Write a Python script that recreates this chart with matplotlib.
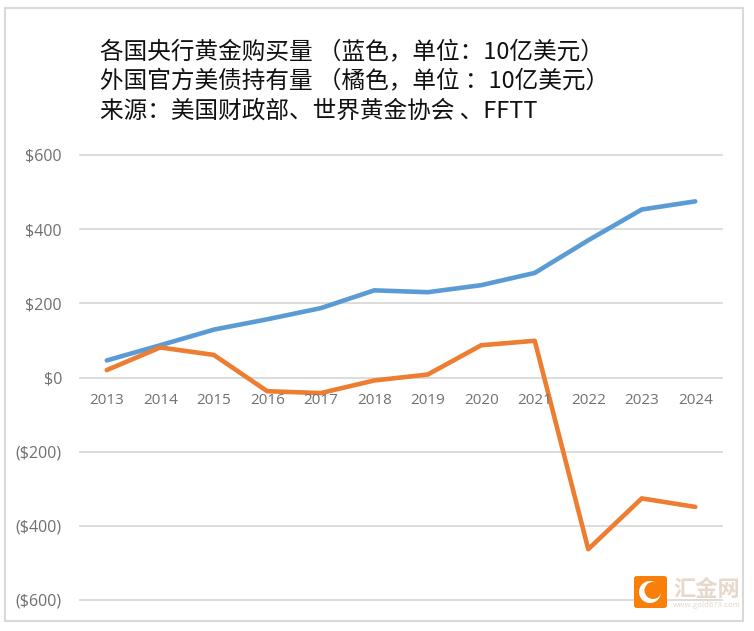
import matplotlib
matplotlib.use("Agg")
import matplotlib.pyplot as plt
from matplotlib.patches import FancyBboxPatch, Rectangle, Circle

plt.rcParams['font.family'] = ['Noto Sans CJK SC', 'DejaVu Sans']

years = ['2013','2014','2015','2016','2017','2018','2019','2020','2021','2022','2023','2024']
gold = [46, 87, 129, 157, 187, 235, 230, 249, 282, 370, 453, 475]
treasury = [20, 81, 61, -37, -42, -8, 8, 87, 99, -463, -326, -349]
yticks = [600, 400, 200, 0, -200, -400, -600]
ylabels = ['$600', '$400', '$200', '$0', '($200)', '($400)', '($600)']
title_lines = ['各国央行黄金购买量 （蓝色，单位：10亿美元）',
               '外国官方美债持有量 （橘色，单位 ：10亿美元）',
               '来源：美国财政部、世界黄金协会 、FFTT']

W, H = 754, 631
fig = plt.figure(figsize=(W/100, H/100), dpi=100, facecolor='white')
fig.add_artist(Rectangle((5/W, 1-621/H), 738/W, 613/H, transform=fig.transFigure,
                         fill=False, edgecolor='#D9D9D9', lw=1.5))

ax = fig.add_axes([80/W, 1-600/H, 642/W, 445/H])
x = list(range(len(years)))
ax.set_xlim(-0.5, 11.5)
ax.set_ylim(-600, 600)
ax.plot(x, gold, color='#5B9BD5', lw=3.3, solid_capstyle='round', zorder=3)
ax.plot(x, treasury, color='#ED7D31', lw=3.3, solid_capstyle='round', zorder=3)
ax.set_yticks(yticks)
ax.set_yticklabels(ylabels, fontsize=11.5, color='#707070', family=['Open Sans','DejaVu Sans'])
ax.yaxis.grid(True, color='#D9D9D9', lw=1.3, clip_on=False)
ax.set_axisbelow(True)
ax.tick_params(length=0, pad=13)
ax.set_xticks([])
for s in ax.spines.values():
    s.set_visible(False)
for xi, lab in zip(x, years):
    ax.annotate(lab, (xi, 0), xytext=(0, -23), textcoords='offset pixels',
                ha='center', va='center', fontsize=11, color='#707070', family=['Open Sans','DejaVu Sans'])

for line, yy in zip(title_lines, [53, 82, 111]):
    fig.text(100/W, 1-yy/H, line, fontsize=17, color='#111111', ha='left', va='center')

# watermark logo
fig.add_artist(FancyBboxPatch((634/W, 1-608/H), 33/W, 32/H, transform=fig.transFigure,
                              boxstyle='round,pad=0,rounding_size=0.004', fc='#F77F0A', ec='none', zorder=5))
logo = fig.add_axes([634/W, 1-608/H, 33/W, 32/H], zorder=6)
logo.set_xlim(0, 33); logo.set_ylim(0, 32); logo.axis('off')
logo.add_patch(Circle((16, 16), 11, fc='white', ec='none'))
logo.add_patch(Circle((19, 17.5), 8.5, fc='#F77F0A', ec='none'))
fig.text(673/W, 1-589/H, '汇金网', fontsize=16, color='#E6D8CA', ha='left', va='center', weight='bold', zorder=6)
fig.text(673/W, 1-605/H, 'www.gold678.com', fontsize=5.6, color='#E6D8CA', ha='left', va='center', zorder=6)

fig.savefig('out.png', dpi=100)
